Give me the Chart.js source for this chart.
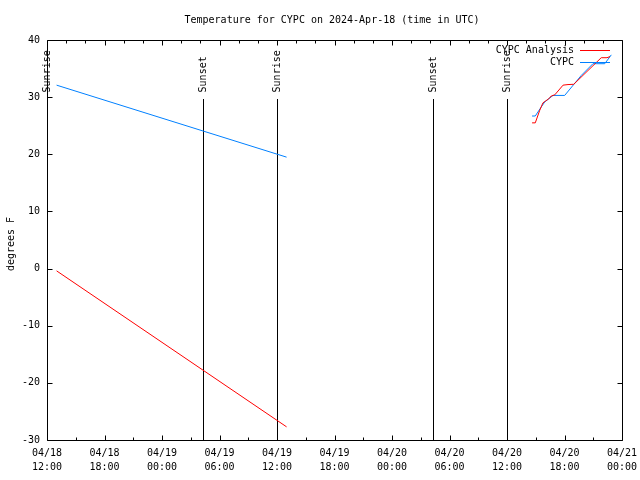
<!DOCTYPE html>
<html><head><meta charset="utf-8">
<script src="https://cdn.jsdelivr.net/npm/chart.js@4"></script>
<style>html,body{margin:0;padding:0;background:#fff}canvas{display:block}</style>
</head><body>
<canvas id="c" width="640" height="480"></canvas>
<script>
// ---- data (times are UTC "MM/DD HH:MM", 2024) ----
const titleText = 'Temperature for CYPC on 2024-Apr-18 (time in UTC)';
const yTitle = 'degrees F';
const xStart = '04/18 12:00';
const xEnd = '04/21 00:00';
const yTicks = [-30, -20, -10, 0, 10, 20, 30, 40];
const xTickLabels = [['04/18','12:00'],['04/18','18:00'],['04/19','00:00'],['04/19','06:00'],['04/19','12:00'],['04/19','18:00'],['04/20','00:00'],['04/20','06:00'],['04/20','12:00'],['04/20','18:00'],['04/21','00:00']];

const sunTimes = ['04/18 12:01','04/19 04:17','04/19 11:59','04/20 04:19','04/20 11:57'];
const sunLabels = ['Sunrise','Sunset','Sunrise','Sunset','Sunrise'];
const sunTop = 29.6, sunBottom = -30;

const fcstTimes = ['04/18 13:00','04/19 13:00'];
const fcstCYPC = [32.1, 19.5];
const fcstAnalysis = [-0.4, -27.7];

const analysisTimes = ['04/20 14:37','04/20 14:57','04/20 15:25','04/20 15:45','04/20 16:00','04/20 16:21','04/20 16:37','04/20 16:59','04/20 17:51','04/20 18:22','04/20 18:58','04/20 21:50','04/20 22:26','04/20 22:45'];
const analysisValues = [25.5, 25.5, 27.7, 29.0, 29.3, 29.7, 30.2, 30.4, 32.1, 32.2, 32.25, 36.9, 36.9, 37.1];

const cypcTimes = ['04/20 14:37','04/20 14:57','04/20 15:35','04/20 15:56','04/20 16:48','04/20 18:01','04/20 19:45','04/20 20:58','04/20 22:12','04/20 22:53'];
const cypcValues = [26.7, 26.7, 28.3, 29.15, 30.3, 30.3, 33.8, 35.85, 35.85, 37.4];

const seriesNames = ['CYPC Analysis', 'CYPC'];
const RED = '#ff0000', BLUE = '#0080ff';
const FONT = '"DejaVu Sans Mono", monospace';

// hours since 04/18 12:00
function hrs(s){
  const m = s.match(/(\d+)\/(\d+) (\d+):(\d+)/);
  const day = +m[2];
  return (day - 18) * 24 + (+m[3]) + (+m[4]) / 60 - 12;
}
const pts = (ts, vs) => ts.map((t, i) => ({x: hrs(t), y: vs[i]}));

const datasets = [];
datasets.push({label: seriesNames[1], data: pts(fcstTimes, fcstCYPC), borderColor: BLUE, borderWidth: 1, pointRadius: 0});
datasets.push({label: seriesNames[0], data: pts(fcstTimes, fcstAnalysis), borderColor: RED, borderWidth: 1, pointRadius: 0});
datasets.push({label: seriesNames[0], data: pts(analysisTimes, analysisValues), borderColor: RED, borderWidth: 1, pointRadius: 0});
datasets.push({label: seriesNames[1], data: pts(cypcTimes, cypcValues), borderColor: BLUE, borderWidth: 1, pointRadius: 0});

const x0 = hrs(xStart), x1 = hrs(xEnd);

const deco = {
  id: 'deco',
  beforeDatasetsDraw(chart){
    const {ctx, scales: {x, y}} = chart;
    ctx.save();
    ctx.strokeStyle = '#000'; ctx.lineWidth = 1;
    ctx.beginPath();
    sunTimes.forEach((t) => {
      const px = Math.round(x.getPixelForValue(hrs(t))) + 0.5;
      ctx.moveTo(px, Math.round(y.getPixelForValue(sunTop)));
      ctx.lineTo(px, Math.round(y.getPixelForValue(sunBottom)));
    });
    ctx.stroke();
    ctx.restore();
  },
  afterDraw(chart){
    const {ctx, chartArea: a, scales: {x, y}} = chart;
    const L = Math.round(a.left) + 0.5, R = Math.round(a.right) + 0.5;
    const T = Math.round(a.top) + 0.5, B = Math.round(a.bottom) + 0.5;
    ctx.save();
    ctx.strokeStyle = '#000'; ctx.lineWidth = 1;
    ctx.beginPath();
    ctx.rect(L, T, R - L, B - T);
    yTicks.forEach(v => {
      const py = Math.round(y.getPixelForValue(v)) + 0.5;
      ctx.moveTo(L, py); ctx.lineTo(L + 5, py);
      ctx.moveTo(R, py); ctx.lineTo(R - 5, py);
    });
    for (let h = x0; h <= x1; h += 3) {
      const px = Math.round(x.getPixelForValue(h)) + 0.5;
      const len = (h % 6 === 0) ? 5 : 3;
      ctx.moveTo(px, B); ctx.lineTo(px, B - len);
    }
    for (let h = x0; h <= x1; h += 2) {
      const px = Math.round(x.getPixelForValue(h)) + 0.5;
      const len = (h % 6 === 0) ? 5 : 3;
      ctx.moveTo(px, T); ctx.lineTo(px, T + len);
    }
    ctx.stroke();

    ctx.fillStyle = '#000';
    ctx.font = '10px ' + FONT;
    ctx.textAlign = 'center'; ctx.textBaseline = 'middle';
    ctx.fillText(titleText, 332, 20);
    ctx.save();
    ctx.translate(11, 244); ctx.rotate(-Math.PI / 2);
    ctx.fillText(yTitle, 0, 0);
    ctx.restore();
    sunTimes.forEach((t, i) => {
      const px = Math.round(x.getPixelForValue(hrs(t))) + 0.5;
      const py = y.getPixelForValue(sunTop) - 7;
      ctx.save();
      ctx.translate(px, py); ctx.rotate(-Math.PI / 2);
      ctx.textAlign = 'left'; ctx.textBaseline = 'middle';
      ctx.fillText(sunLabels[i], 0, 0);
      ctx.restore();
    });
    ctx.textAlign = 'right'; ctx.textBaseline = 'middle';
    const leg = [[seriesNames[0], RED, 50], [seriesNames[1], BLUE, 62]];
    leg.forEach(([name, col, ly]) => {
      ctx.fillStyle = '#000';
      ctx.fillText(name, 574, ly);
      ctx.strokeStyle = col;
      ctx.beginPath(); ctx.moveTo(580, ly + 0.5); ctx.lineTo(610, ly + 0.5); ctx.stroke();
    });
    ctx.restore();
  }
};

new Chart(document.getElementById('c'), {
  type: 'line',
  data: {datasets},
  plugins: [deco],
  options: {
    responsive: false,
    animation: false,
    events: [],
    layout: {padding: {top: 40, right: 18, left: 0, bottom: 0}},
    plugins: {legend: {display: false}, tooltip: {enabled: false}, title: {display: false}},
    elements: {line: {tension: 0}},
    scales: {
      x: {
        type: 'linear', min: x0, max: x1,
        afterFit(s){ s.height = 40; s.paddingLeft = 0; s.paddingRight = 0; },
        afterBuildTicks(s){ s.ticks = xTickLabels.map((_, i) => ({value: x0 + i * 6})); },
        grid: {display: false, drawTicks: false},
        border: {display: false},
        ticks: {
          autoSkip: false, maxRotation: 0, minRotation: 0, padding: 6, color: '#000',
          font: {family: FONT, size: 10, lineHeight: 1.4},
          callback: (v, i) => xTickLabels[i]
        }
      },
      y: {
        type: 'linear', min: -30, max: 40,
        afterFit(s){ s.width = 47; s.paddingTop = 0; s.paddingBottom = 0; },
        afterBuildTicks(s){ s.ticks = yTicks.map(v => ({value: v})); },
        grid: {display: false, drawTicks: false},
        border: {display: false},
        ticks: {padding: 7, color: '#000', font: {family: FONT, size: 10}, callback: v => String(v)}
      }
    }
  }
});
</script>
</body></html>
